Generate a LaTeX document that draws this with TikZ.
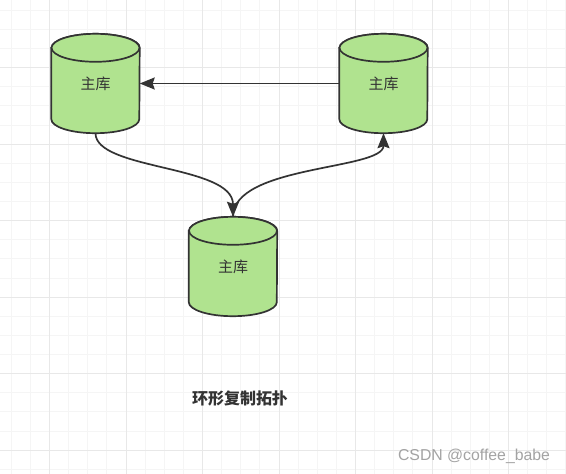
\documentclass[tikz,border=0pt]{standalone}
\usepackage{fontspec}
\newfontfamily\cjk{Noto Sans CJK SC}
\newfontfamily\wmfont{Liberation Sans}
\usetikzlibrary{arrows.meta}
\definecolor{gridminor}{HTML}{F5F5F5}
\definecolor{gridmajor}{HTML}{E8E8E8}
\definecolor{dbfill}{HTML}{B0E38F}
\definecolor{dbline}{HTML}{333333}
\definecolor{wmgray}{HTML}{A3A3A3}
\tikzset{
  dbnode/.style={minimum width=88pt, minimum height=99pt, inner sep=0pt,
    font=\cjk\fontsize{15}{18}\selectfont, text=dbline},
  dbshape/.style={line width=1.7pt, draw=dbline, fill=dbfill},
  link/.style={line width=1.7pt, draw=dbline,
    -{Stealth[length=15pt, width=12pt, inset=2pt]}},
}
\newcommand{\drawdb}[1]{%
  \path[dbshape]
    ([yshift=-14pt]#1.north west) -- ([yshift=14pt]#1.south west)
    arc[start angle=180, end angle=360, x radius=44pt, y radius=14pt]
    -- ([yshift=-14pt]#1.north east)
    arc[start angle=0, end angle=180, x radius=44pt, y radius=14pt] -- cycle;
  \draw[dbshape] ([yshift=-14pt]#1.north) ellipse[x radius=44pt, y radius=14pt];
}
\begin{document}
\begin{tikzpicture}[x=1pt, y=1pt]
  \useasboundingbox (0,0) rectangle (566,-474);
  \fill[white] (0,0) rectangle (566,-474);
  % grid
  \foreach \k in {0,...,29} {
    \draw[gridminor, line width=1pt] ({11.25+19.125*\k},0) -- ({11.25+19.125*\k},-474);
    \draw[gridminor, line width=1pt] (0,{-10.3-19.125*\k}) -- (566,{-10.3-19.125*\k});
  }
  \foreach \k in {0,...,7} {
    \draw[gridmajor, line width=1pt] ({49.5+76.5*\k},0) -- ({49.5+76.5*\k},-474);
    \draw[gridmajor, line width=1pt] (0,{-67.7-76.5*\k}) -- (566,{-67.7-76.5*\k});
  }
  % databases
  \node[dbnode] (A) at (95.5,-83.5) {};
  \node[dbnode] (B) at (383.5,-83.5) {};
  \node[dbnode] (C) at (233,-266.5) {};
  \drawdb{A}\drawdb{B}\drawdb{C}
  \node[dbnode] at (A) {主库};
  \node[dbnode] at (B) {主库};
  \node[dbnode] at (C) {主库};
  % connectors
  \draw[link] (B.west) -- (A.east);
  \draw[link] (A.south) .. controls ([yshift=-37pt]A.south) and ([yshift=52pt]C.north) .. (C.north);
  \draw[link] (C.north) .. controls ([yshift=52pt]C.north) and ([yshift=-37pt]B.south) .. (B.south);
  % labels
  \node[font=\cjk\bfseries\fontsize{16}{19}\selectfont, text=dbline] (title) at (240,-398) {环形复制拓扑};
  \node[font=\wmfont\fontsize{15.8}{18}\selectfont, text=wmgray] (wm) at (474,-456.7) {CSDN @coffee\_babe};
\end{tikzpicture}
\end{document}
